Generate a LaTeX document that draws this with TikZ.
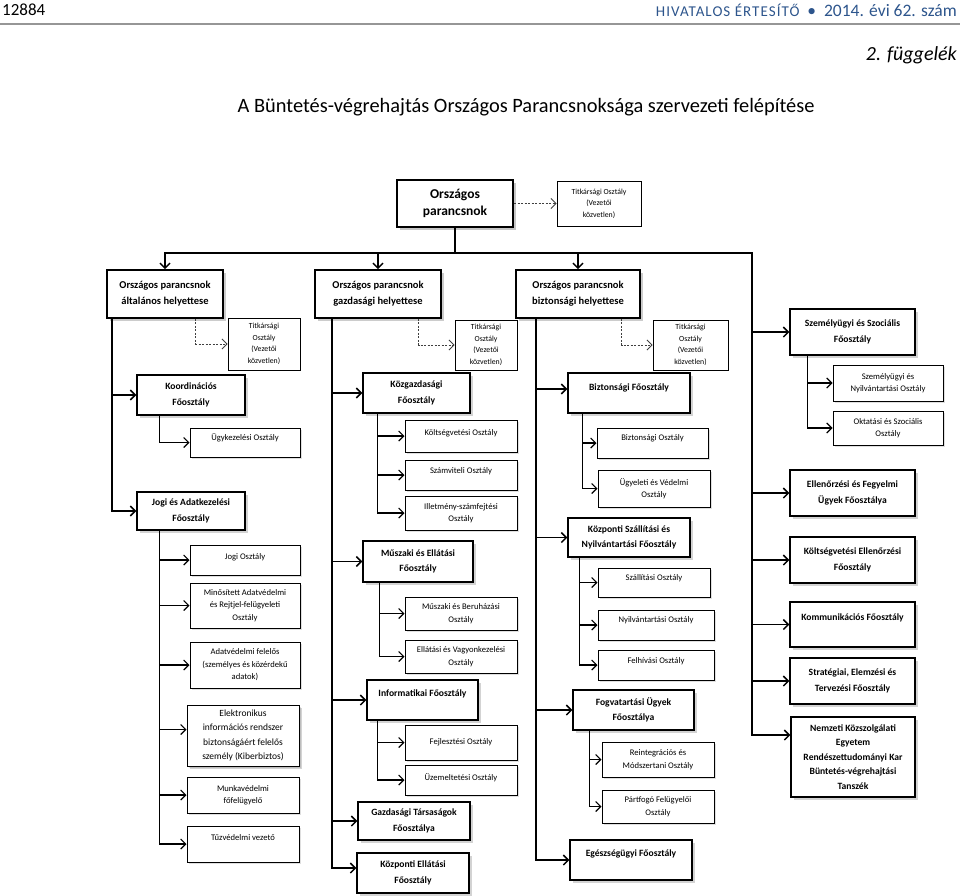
\documentclass[tikz,border=0pt]{standalone}
\usepackage{fontspec}
\setmainfont{Carlito}
\newfontfamily\spacedcaps[LetterSpace=7]{Carlito}
\usetikzlibrary{arrows.meta,shadows}
\definecolor{bvblue}{RGB}{45,85,140}
\definecolor{bvgray}{RGB}{150,150,150}

\begin{document}
\begin{tikzpicture}[x=1pt,y=-1pt,>={Straight Barb[length=5pt,width=10pt]},
  wh/.style 2 args={minimum width=#1pt,minimum height=#2pt},
  lift/.style={text depth=#1pt},
  chiefbox/.style={draw,fill=white,align=center,line width=2.2pt,
    font=\fontsize{13.5}{17}\selectfont\bfseries,
    drop shadow={shadow xshift=3pt,shadow yshift=-3pt,opacity=.45}},
  depbox/.style={draw,fill=white,align=center,line width=1.6pt,
    font=\fontsize{10.5}{16}\selectfont\bfseries,
    drop shadow={shadow xshift=3pt,shadow yshift=-3pt,opacity=.4}},
  headbox/.style={draw,fill=white,align=center,line width=1.3pt,
    font=\fontsize{9.6}{15.5}\selectfont\bfseries,
    drop shadow={shadow xshift=2.5pt,shadow yshift=-2.5pt,opacity=.35}},
  unitbox/.style={draw,fill=white,align=center,line width=1pt,
    font=\fontsize{8.6}{12.5}\selectfont,
    drop shadow={shadow xshift=1.5pt,shadow yshift=-1.5pt,opacity=.25}},
  secbox/.style={draw,fill=white,align=center,line width=.8pt,
    font=\fontsize{7.8}{11.6}\selectfont},
  mainln/.style={line width=1.5pt},
  subln/.style={line width=1.1pt},
  secln/.style={line width=.9pt,dash pattern=on 2pt off 1.5pt,black!75}]
  \useasboundingbox (0,0) rectangle (960,895);

  % page header and title
  \node[anchor=west,inner sep=0pt,font=\fontsize{17}{17}\selectfont] (pageno) at (2,10) {12884};
  \node[anchor=east,inner sep=0pt,text=bvblue,font=\fontsize{17.5}{17.5}\selectfont] (journal) at (957,10)
    {{\fontsize{15}{15}\spacedcaps HIVATALOS ÉRTESÍTŐ}\ \ •\ \ 2014. évi 62. szám};
  \draw[bvgray,line width=2pt] (0,24) -- (960,24);
  \node[anchor=east,inner sep=0pt,font=\fontsize{20}{20}\selectfont\itshape] (annex) at (957,55) {2. függelék};
  \node[inner sep=0pt,font=\fontsize{20.4}{21}\selectfont] (title) at (526,107)
    {A Büntetés-végrehajtás Országos Parancsnoksága szervezeti felépítése};

  % top level
  \node[chiefbox,wh={116}{47}] (chief) at (455,203.5) {Országos\\parancsnok};
  \node[secbox,wh={84}{45}] (titk0) at (599,203.5) {Titkársági Osztály\\(Vezetői\\közvetlen)};
  \node[depbox,wh={116}{48}] (dep1) at (165,294) {Országos parancsnok\\általános helyettese};
  \node[depbox,wh={126}{48}] (dep2) at (378,294) {Országos parancsnok\\gazdasági helyettese};
  \node[depbox,wh={124}{48}] (dep3) at (578,294) {Országos parancsnok\\biztonsági helyettese};
  \node[secbox,wh={72}{52}] (titk1) at (264,344) {Titkársági\\Osztály\\(Vezetői\\közvetlen)};
  \node[secbox,wh={62}{50}] (titk2) at (486,345) {Titkársági\\Osztály\\(Vezetői\\közvetlen)};
  \node[secbox,wh={75}{50}] (titk3) at (690.5,345) {Titkársági\\Osztály\\(Vezetői\\közvetlen)};

  % general deputy
  \node[headbox,wh={108}{40}] (koord) at (191,395) {Koordinációs\\Főosztály};
  \node[unitbox,wh={110}{29},lift=10] (ugyk) at (245,442.5) {Ügykezelési Osztály};
  \node[headbox,wh={108}{38}] (jogiadat) at (191,511) {Jogi és Adatkezelési\\Főosztály};
  \node[unitbox,wh={110}{30},lift=6] (jogi) at (245,560) {Jogi Osztály};
  \node[unitbox,wh={110}{45}] (minos) at (245,605.5) {Minősített Adatvédelmi\\és Rejtjel-felügyeleti\\Osztály};
  \node[unitbox,wh={110}{46}] (adatv) at (245,665) {Adatvédelmi felelős\\(személyes és közérdekű\\adatok)};
  \node[unitbox,wh={112}{61},font=\fontsize{9.5}{14.5}\selectfont,
        drop shadow={shadow xshift=2.5pt,shadow yshift=-2.5pt,opacity=.35}] (elektr) at (243,735.5)
    {Elektronikus\\információs rendszer\\biztonságáért felelős\\személy (Kiberbiztos)};
  \node[unitbox,wh={112}{36}] (munka) at (243,795) {Munkavédelmi\\főfelügyelő};
  \node[unitbox,wh={112}{36},lift=14] (tuz) at (243,844) {Tűzvédelmi vezető};

  % economic deputy
  \node[headbox,wh={107}{40}] (kozg) at (416.5,393) {Közgazdasági\\Főosztály};
  \node[unitbox,wh={112}{32},lift=6] (koltsv) at (461,436) {Költségvetési Osztály};
  \node[unitbox,wh={112}{30},lift=8] (szamv) at (461,475) {Számviteli Osztály};
  \node[unitbox,wh={112}{34}] (illetm) at (461,513) {Illetmény-számfejtési\\Osztály};
  \node[headbox,wh={110}{41}] (musz) at (418,561.5) {Műszaki és Ellátási\\Főosztály};
  \node[unitbox,wh={112}{33}] (muszb) at (461,613.5) {Műszaki és Beruházási\\Osztály};
  \node[unitbox,wh={112}{33}] (ellat) at (461,656.5) {Ellátási és Vagyonkezelési\\Osztály};
  \node[headbox,wh={111}{40},lift=14] (info) at (422.5,700) {Informatikai Főosztály};
  \node[unitbox,wh={112}{35},lift=3] (fejl) at (461,742.5) {Fejlesztési Osztály};
  \node[unitbox,wh={112}{30},lift=6] (uzem) at (461,780) {Üzemeltetési Osztály};
  \node[headbox,wh={112}{38}] (gazd) at (414,821) {Gazdasági Társaságok\\Főosztálya};
  \node[headbox,wh={112}{40}] (kozpe) at (413,873) {Központi Ellátási\\Főosztály};

  % security deputy
  \node[headbox,wh={122}{40},lift=12] (bizt) at (629,393) {Biztonsági Főosztály};
  \node[unitbox,wh={111}{30},lift=10] (biztO) at (652.5,443) {Biztonsági Osztály};
  \node[unitbox,wh={112}{37}] (ugyel) at (654,488.5) {Ügyeleti és Védelmi\\Osztály};
  \node[headbox,wh={122}{39}] (kozpsz) at (629,537.5) {Központi Szállítási és\\Nyilvántartási Főosztály};
  \node[unitbox,wh={112}{29},lift=9] (szall) at (654,582.5) {Szállítási Osztály};
  \node[unitbox,wh={116}{30},lift=10] (nyilv) at (656,625) {Nyilvántartási Osztály};
  \node[unitbox,wh={116}{30},lift=10] (felh) at (656,665) {Felhívási Osztály};
  \node[headbox,wh={121}{40}] (fogv) at (633.5,710) {Fogvatartási Ügyek\\Főosztálya};
  \node[unitbox,wh={112}{35}] (reint) at (658,759.5) {Reintegrációs és\\Módszertani Osztály};
  \node[unitbox,wh={112}{33}] (partf) at (658,806.5) {Pártfogó Felügyelői\\Osztály};
  \node[headbox,wh={122}{40},lift=13] (egesz) at (631,860) {Egészségügyi Főosztály};

  % directly under the national commander
  \node[headbox,wh={125}{46}] (szemsz) at (852.5,332) {Személyügyi és Szociális\\Főosztály};
  \node[unitbox,wh={110}{36}] (szemny) at (888,383) {Személyügyi és\\Nyilvántartási Osztály};
  \node[unitbox,wh={110}{34}] (oktat) at (888,428) {Oktatási és Szociális\\Osztály};
  \node[headbox,wh={125}{46}] (ellen) at (852.5,493) {Ellenőrzési és Fegyelmi\\Ügyek Főosztálya};
  \node[headbox,wh={125}{46}] (koltse) at (852.5,560) {Költségvetési Ellenőrzési\\Főosztály};
  \node[headbox,wh={125}{45},lift=14] (komm) at (852.5,624.5) {Kommunikációs Főosztály};
  \node[headbox,wh={125}{46}] (strat) at (852.5,681) {Stratégiai, Elemzési és\\Tervezési Főosztály};
  \node[headbox,wh={124}{80},font=\fontsize{9.6}{14.5}\selectfont\bfseries] (nke) at (853,757)
    {Nemzeti Közszolgálati\\Egyetem\\Rendészettudományi Kar\\Büntetés-végrehajtási\\Tanszék};

  % connectors from the top
  \coordinate (busR) at (752,253);
  \draw[secln,->] (chief.east) -- (titk0.west);
  \draw[mainln,->] (chief.south) -- (chief.south |- busR) -| (dep1.north);
  \draw[mainln,->] (chief.south) -- (chief.south |- busR) -| (dep2.north);
  \draw[mainln,->] (chief.south) -- (chief.south |- busR) -| (dep3.north);
  \draw[mainln,->] (chief.south) |- (busR) |- (szemsz.west);
  \draw[mainln,->] (busR) |- (ellen.west);
  \draw[mainln,->] (busR) |- (koltse.west);
  \draw[mainln,->] (busR) |- (komm.west);
  \draw[mainln,->] (busR) |- (strat.west);
  \draw[mainln,->] (busR) |- ([yshift=22pt]nke.west);
  \draw[subln,->] ([xshift=18pt]szemsz.south west) |- (szemny.west);
  \draw[subln,->] ([xshift=18pt]szemsz.south west) |- (oktat.west);

  % secretariats
  \draw[secln,->] ([xshift=-28pt]dep1.south east) |- (titk1.west);
  \draw[secln,->] ([xshift=-23pt]dep2.south east) |- (titk2.west);
  \draw[secln,->] ([xshift=-19pt]dep3.south east) |- (titk3.west);

  % general deputy
  \draw[mainln,->] ([xshift=6pt]dep1.south west) |- (koord.west);
  \draw[mainln,->] ([xshift=6pt]dep1.south west) |- (jogiadat.west);
  \draw[subln,->] ([xshift=23pt]koord.south west) |- (ugyk.west);
  \draw[subln,->] ([xshift=23pt]jogiadat.south west) |- (jogi.west);
  \draw[subln,->] ([xshift=23pt]jogiadat.south west) |- (minos.west);
  \draw[subln,->] ([xshift=23pt]jogiadat.south west) |- (adatv.west);
  \draw[subln,->] ([xshift=23pt]jogiadat.south west) |- ([yshift=6pt]elektr.west);
  \draw[subln,->] ([xshift=23pt]jogiadat.south west) |- (munka.west);
  \draw[subln,->] ([xshift=23pt]jogiadat.south west) |- (tuz.west);

  % economic deputy
  \draw[mainln,->] ([xshift=18pt]dep2.south west) |- (kozg.west);
  \draw[mainln,->] ([xshift=18pt]dep2.south west) |- (musz.west);
  \draw[mainln,->] ([xshift=18pt]dep2.south west) |- (info.west);
  \draw[mainln,->] ([xshift=18pt]dep2.south west) |- (gazd.west);
  \draw[mainln,->] ([xshift=18pt]dep2.south west) |- ([yshift=5pt]kozpe.west);
  \draw[subln,->] ([xshift=15pt]kozg.south west) |- (koltsv.west);
  \draw[subln,->] ([xshift=15pt]kozg.south west) |- (szamv.west);
  \draw[subln,->] ([xshift=15pt]kozg.south west) |- (illetm.west);
  \draw[subln,->] ([xshift=17pt]musz.south west) |- (muszb.west);
  \draw[subln,->] ([xshift=17pt]musz.south west) |- (ellat.west);
  \draw[subln,->] ([xshift=11pt]info.south west) |- (fejl.west);
  \draw[subln,->] ([xshift=11pt]info.south west) |- (uzem.west);

  % security deputy
  \draw[mainln,->] ([xshift=21pt]dep3.south west) |- ([yshift=4pt]bizt.west);
  \draw[mainln,->] ([xshift=21pt]dep3.south west) |- (kozpsz.west);
  \draw[mainln,->] ([xshift=21pt]dep3.south west) |- (fogv.west);
  \draw[mainln,->] ([xshift=21pt]dep3.south west) |- (egesz.west);
  \draw[subln,->] ([xshift=15pt]bizt.south west) |- (biztO.west);
  \draw[subln,->] ([xshift=15pt]bizt.south west) |- (ugyel.west);
  \draw[subln,->] ([xshift=12pt]kozpsz.south west) |- (szall.west);
  \draw[subln,->] ([xshift=12pt]kozpsz.south west) |- (nyilv.west);
  \draw[subln,->] ([xshift=12pt]kozpsz.south west) |- (felh.west);
  \draw[subln,->] ([xshift=17pt]fogv.south west) |- (reint.west);
  \draw[subln,->] ([xshift=17pt]fogv.south west) |- (partf.west);
\end{tikzpicture}
\end{document}
